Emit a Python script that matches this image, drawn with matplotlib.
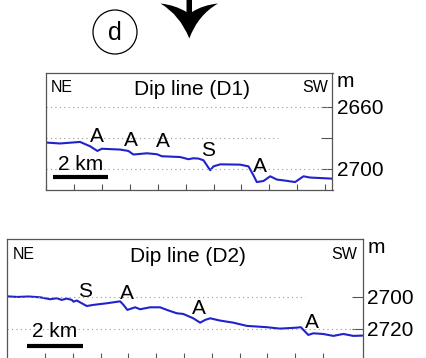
import matplotlib.pyplot as plt
from matplotlib.path import Path
from matplotlib.patches import PathPatch, Circle
from matplotlib.transforms import Affine2D

plt.rcParams['font.family'] = ['Liberation Sans', 'DejaVu Sans']

# profile D1 (km along line, depth in m)
d1_km = [0, 0.5, 1.22, 1.58, 1.84, 2.0, 2.65, 2.95, 3.13, 3.61, 3.97, 4.15, 4.8, 5.1, 5.28,
         5.46, 5.64, 5.76, 5.88, 6.0, 6.24, 6.95, 7.25, 7.43, 7.55, 7.79, 8.03, 8.27, 8.5,
         8.92, 9.22, 9.46, 10.26]
d1_depth = [2683, 2683.6, 2682.6, 2685.4, 2688.4, 2687, 2687.5, 2688.4, 2690.7, 2689.9, 2690.5,
            2691.8, 2692.3, 2693.7, 2693.1, 2693.3, 2694.4, 2697.6, 2700.8, 2698.3, 2697, 2697.2,
            2698.3, 2704.1, 2708.4, 2707.7, 2704.7, 2706.8, 2707.3, 2708.4, 2704.7, 2705.5, 2706.2]
d1_marks = ['A', 'A', 'A', 'S', 'A']
d1_mark_km = [1.82, 3.04, 4.2, 5.82, 7.67]
d1_mark_depth = [2679.4, 2681.5, 2682.6, 2688.4, 2698.3]

# profile D2
d2_km = [-1.37, -1.0, -0.6, -0.18, 0.18, 0.42, 0.6, 0.78, 0.96, 1.02, 1.14, 1.5, 1.74, 2.22,
         2.7, 2.82, 2.96, 3.24, 3.42, 3.78, 4.14, 4.38, 4.74, 4.97, 5.33, 5.58, 5.76, 5.94,
         6.29, 6.77, 7.26, 7.97, 8.45, 9.05, 9.2, 9.47, 9.65, 10.0, 10.37, 10.73, 11.09, 11.43]
d2_depth = [2699.8, 2700.2, 2699.9, 2700.4, 2701.6, 2701, 2702, 2701.2, 2702, 2703.1, 2702.4,
            2705.8, 2705.1, 2704.1, 2702.9, 2705.1, 2708.2, 2706.6, 2707.8, 2706.6, 2706.6,
            2708.2, 2710.3, 2710.7, 2713.4, 2716.1, 2714.4, 2713.4, 2714.8, 2716.1, 2718.1,
            2718.9, 2719.8, 2719.2, 2718.9, 2723.7, 2722.7, 2723.1, 2724.3, 2723.1, 2724.3, 2724.1]
d2_marks = ['S', 'A', 'A', 'A']
d2_mark_km = [1.44, 2.96, 5.55, 9.59]
d2_mark_depth = [2697, 2698, 2707.2, 2716.1]

W, H = 427, 358
fig = plt.figure(figsize=(W / 100, H / 100), dpi=100)
px = Affine2D().scale(1 / W, -1 / H).translate(0, 1) + fig.transFigure

line_c = '#2222cc'
spine_c = '#555555'
grid_c = '#999999'
fs = 15


def panel(rect, km, depth, marks, mkm, mdepth, xlim, ylim, yticks, ylabels, grids,
          title, bar, bar_y, bar_txt_y):
    ax = fig.add_axes(rect)
    ax.plot(km, depth, color=line_c, lw=1.5)
    for m, x, y in zip(marks, mkm, mdepth):
        ax.text(x, y, m, fontsize=fs, ha='center', va='center')
    for y, x0, x1 in grids:
        ax.plot([x0, x1], [y, y], color=grid_c, lw=0.8, ls=(0, (1, 3)))
    ax.set_xlim(*xlim)
    ax.set_ylim(*ylim)
    ax.set_xticks(range(0, 11))
    ax.set_xticklabels([])
    ax.yaxis.tick_right()
    ax.set_yticks(yticks)
    ax.set_yticklabels(ylabels, fontsize=fs)
    ax.tick_params(axis='x', direction='in', length=4, color=spine_c, width=0.8)
    ax.tick_params(axis='y', direction='in', length=8, color=spine_c, width=0.8, pad=3)
    for s in ax.spines.values():
        s.set_color(spine_c)
        s.set_linewidth(0.9)
    ax.text(0.015, 0.875, 'NE', transform=ax.transAxes, fontsize=11.5, va='center', ha='left')
    ax.text(0.985, 0.875, 'SW', transform=ax.transAxes, fontsize=11.5, va='center', ha='right')
    ax.text(0.51, 0.855, title, transform=ax.transAxes, fontsize=fs, va='center', ha='center')
    ax.text(1.015, 0.93, 'm', transform=ax.transAxes, fontsize=fs, va='center', ha='left')
    ax.plot(bar, [bar_y, bar_y], color='black', lw=3, solid_capstyle='butt')
    ax.text(sum(bar) / 2, bar_txt_y, '2 km', fontsize=fs, ha='center', va='center')
    return ax


panel([46 / W, 1 - 190 / H, 286.5 / W, 117 / H], d1_km, d1_depth, d1_marks, d1_mark_km,
      d1_mark_depth, (0, 10.26), (2713.5, 2638.3), [2660, 2680, 2700], ['2660', '', '2700'],
      [(2660, 0, 10.1), (2680, 0, 8.3), (2700, 0, 10.1)], 'Dip line (D1)',
      [0.24, 2.23], 2705.3, 2697)

panel([7 / W, 1 - 359 / H, 355.5 / W, 119.7 / H], d2_km, d2_depth, d2_marks, d2_mark_km,
      d2_mark_depth, (-1.37, 11.42), (2738.6, 2664.5), [2700, 2720], ['2700', '2720'],
      [(2700, -1.37, 9.35), (2720, -1.37, 11.2)], 'Dip line (D2)',
      [-0.65, 1.36], 2730.5, 2721.7)

# label circle "d"
fig.add_artist(Circle((115, 32), 22, transform=px, fill=False, lw=0.9, ec='black'))
fig.text(115 / W, 1 - 33 / H, 'd', fontsize=18, ha='center', va='center')

# down arrow
verts = [(186.5, -2), (186.5, 12), (175, 5), (160.5, 3.5), (180, 15), (189.3, 38.5),
         (198, 15), (218, 3.5), (203, 5), (192, 12), (192, -2), (186.5, -2)]
codes = [Path.MOVETO, Path.LINETO, Path.CURVE3, Path.CURVE3, Path.CURVE3, Path.CURVE3,
         Path.CURVE3, Path.CURVE3, Path.CURVE3, Path.CURVE3, Path.LINETO, Path.CLOSEPOLY]
fig.add_artist(PathPatch(Path(verts, codes), transform=px, fc='black', ec='none'))

fig.savefig('out.png', dpi=100)
